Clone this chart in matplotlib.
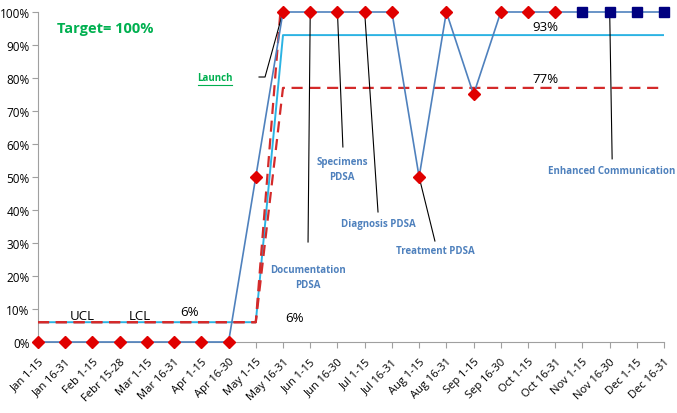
import numpy as np
import matplotlib
matplotlib.use("Agg")
import matplotlib.pyplot as plt

# ------------ data ----------
periods = ["Jan 1-15", "Jan 16-31", "Feb 1-15", "Febr 15-28", "Mar 1-15", "Mar 16-31",
           "Apr 1-15", "Apr 16-30", "May 1-15", "May 16-31", "Jun 1-15", "Jun 16-30",
           "Jul 1-15", "Jul 16-31", "Aug 1-15", "Aug 16-31", "Sep 1-15", "Sep 16-30",
           "Oct 1-15", "Oct 16-31", "Nov 1-15", "Nov 16-30", "Dec 1-15", "Dec 16-31"]
compliance = [0, 0, 0, 0, 0, 0, 0, 0, 50, 100, 100, 100,
              100, 100, 50, 100, 75, 100, 100, 100, 100, 100, 100, 100]
n_diamond = 20  # the last four periods use square markers
center_line = [6] * 9 + [93] * 15
ucl = [6] * 9 + [110] * 15   # above 100%, clipped by the axis
lcl = [6] * 9 + [77] * 15

# annotations: (text, text position, line points)
notes = [
    ("Documentation\nPDSA", (9.92, 19.7), [(9.92, 30.3), (10, 100)]),
    ("Specimens\nPDSA", (11.17, 52.4), [(11.2, 59.1), (11, 100)]),
    ("Diagnosis PDSA", (12.49, 35.8), [(12.49, 39.4), (12, 100)]),
    ("Treatment PDSA", (14.58, 27.6), [(14.58, 30.6), (14, 50)]),
    ("Enhanced Communication", (21.09, 52.1), [(21.09, 55.5), (21, 100)]),
]

plt.rcParams["font.family"] = ["Open Sans", "DejaVu Sans"]

fig = plt.figure(figsize=(6.77, 4.14), dpi=100)
ax = fig.add_axes([0.0561, 0.1715, 0.9249, 0.7971])
x = np.arange(len(periods))

# ------------ control limits and centre line ----------
ax.plot(x, center_line, color="#2BB3E3", lw=1.4, zorder=2)
ax.plot(x, ucl, color="#D42A2A", lw=1.6, ls=(0, (5, 3)), zorder=3)
ax.plot(x, lcl, color="#D42A2A", lw=1.6, ls=(0, (5, 3)), zorder=3)

# ------------ data line ----------
ax.plot(x, compliance, color="#4F81BD", lw=1.2, zorder=4, clip_on=False)
ax.plot(x[:n_diamond], compliance[:n_diamond], ls="none", marker="D", ms=6,
        color="#E00000", zorder=5, clip_on=False)
ax.plot(x[n_diamond:], compliance[n_diamond:], ls="none", marker="s", ms=7,
        color="#000080", zorder=5, clip_on=False)

# ------------ annotations ----------
for label, (tx, ty), pts in notes:
    px, py = zip(*pts)
    ax.plot(px, py, color="black", lw=0.8, zorder=3, clip_on=False)
    ax.text(tx, ty, label, color="#4F81BD", fontsize=7, fontweight="bold",
            ha="center", va="center", linespacing=1.4)

# Launch, with underline
ax.plot([8.12, 8.34, 9], [80.3, 80.3, 100], color="black", lw=0.8, zorder=3)
ax.text(6.5, 80.0, "Launch", color="#00B050", fontsize=7, fontweight="bold",
        ha="center", va="center")
ax.plot([5.88, 7.14], [77.9, 77.9], color="#00B050", lw=0.8)

ax.text(0.7, 95, "Target= 100%", color="#00B050", fontsize=10.5, fontweight="bold",
        ha="left", va="center")

for label, tx, ty in [("UCL", 1.62, 7.9), ("LCL", 3.75, 7.9), ("6%", 5.58, 9.1),
                      ("6%", 9.44, 7.3), ("93%", 18.63, 95.5), ("77%", 18.63, 79.7)]:
    ax.text(tx, ty, label, color="black", fontsize=9.5, ha="center", va="center")

# ------------ axes ----------
ax.set_xlim(0, len(periods) - 1)
ax.set_ylim(0, 100)
ax.set_yticks(np.arange(0, 101, 10))
ax.set_yticklabels(["%d%%" % v for v in range(0, 101, 10)], fontsize=8.5)
ax.set_xticks(x)
ax.set_xticklabels(periods, rotation=45, ha="right", rotation_mode="anchor", fontsize=8)
for side in ["top", "right"]:
    ax.spines[side].set_visible(False)
for side in ["left", "bottom"]:
    ax.spines[side].set_color("#A0A0A0")
ax.tick_params(colors="#A0A0A0", labelcolor="black", length=4)
ax.tick_params(axis="x", pad=6)
ax.tick_params(axis="y", pad=2)

fig.savefig("out.png", dpi=100)
